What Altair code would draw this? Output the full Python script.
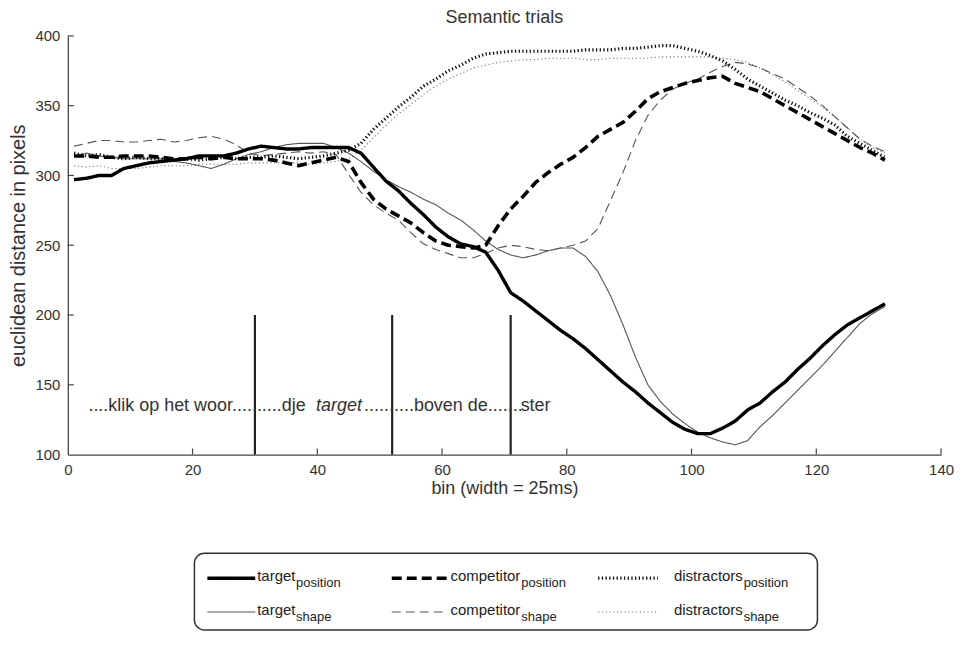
import altair as alt
import pandas as pd

FONT = "Liberation Sans"

# ---------------- data ----------------
bins = list(range(1, 132, 2))

target_position = [297, 298, 300, 300, 305, 307, 309, 310, 311, 312, 314, 314, 314, 316, 319, 321,
                   320, 319, 319, 320, 320, 320, 320, 316, 306, 296, 289, 280, 272, 263, 256, 251,
                   249, 245, 232, 216, 210, 203, 196, 189, 183, 176, 168, 160, 152, 145, 137, 130,
                   123, 118, 115, 115, 119, 124, 132, 137, 145, 152, 161, 169, 178, 186, 193, 198,
                   203, 208]
competitor_position = [314, 314, 313, 313, 314, 314, 314, 313, 312, 312, 313, 312, 313, 312, 312, 312,
                       311, 309, 307, 309, 311, 313, 310, 295, 283, 276, 271, 266, 259, 253, 250, 249,
                       248, 250, 264, 276, 285, 295, 302, 308, 313, 320, 328, 333, 338, 346, 355, 360,
                       363, 366, 368, 370, 371, 366, 363, 360, 355, 350, 345, 340, 335, 330, 325, 320,
                       316, 311]
distractors_position = [316, 314, 315, 313, 312, 313, 312, 312, 311, 312, 311, 312, 313, 312, 313, 313,
                        314, 313, 312, 313, 314, 316, 318, 323, 333, 341, 349, 356, 364, 369, 375, 379,
                        384, 387, 388, 389, 389, 389, 389, 389, 389, 390, 390, 390, 391, 391, 392, 393,
                        393, 391, 389, 386, 382, 376, 369, 364, 359, 354, 350, 345, 341, 336, 328, 323,
                        318, 313]
target_shape = [314, 316, 314, 313, 312, 312, 312, 312, 310, 309, 307, 305, 308, 312, 315, 317,
                320, 322, 323, 323, 323, 320, 316, 310, 303, 297, 292, 288, 283, 279, 273, 268,
                261, 253, 247, 243, 241, 243, 246, 248, 248, 242, 231, 214, 193, 170, 150, 138,
                129, 122, 116, 112, 109, 107, 110, 120, 128, 137, 146, 155, 164, 174, 184, 194,
                201, 206]
competitor_shape = [321, 323, 325, 325, 324, 324, 325, 326, 324, 325, 327, 328, 326, 322, 316, 314,
                    315, 316, 317, 316, 317, 315, 301, 288, 279, 273, 268, 259, 251, 247, 244, 241,
                    241, 244, 248, 250, 249, 247, 246, 248, 250, 253, 262, 282, 302, 325, 343, 354,
                    362, 366, 369, 374, 378, 381, 380, 377, 373, 369, 363, 357, 350, 342, 334, 326,
                    321, 317]
distractors_shape = [307, 306, 307, 305, 305, 305, 306, 307, 307, 307, 308, 308, 308, 308, 309, 309,
                     309, 309, 309, 308, 309, 310, 312, 318, 327, 336, 344, 351, 358, 364, 369, 373,
                     377, 379, 381, 382, 383, 383, 384, 384, 384, 383, 383, 384, 384, 384, 384, 385,
                     385, 385, 385, 385, 384, 383, 381, 377, 372, 367, 361, 355, 349, 342, 334, 326,
                     320, 316]

x_tick_values = [0, 20, 40, 60, 80, 100, 120, 140]
y_tick_values = [100, 150, 200, 250, 300, 350, 400]

word_onset_bins = [30, 52, 71]
word_bar_from = 100
word_bar_to = 200

annotation_texts = ["....klik op het woor..........dje", "target", "..........boven de.......", "ster"]
annotation_bins = [3.3, 39.8, 47.5, 72.6]
annotation_italic = [False, True, False, False]
annotation_level = 135

legend_words = ["target", "competitor", "distractors", "target", "competitor", "distractors"]
legend_subs = ["position", "position", "position", "shape", "shape", "shape"]

series_order = ["distractors_shape", "competitor_shape", "target_shape",
                "distractors_position", "competitor_position", "target_position"]
series_values = {
    "target_position": target_position,
    "competitor_position": competitor_position,
    "distractors_position": distractors_position,
    "target_shape": target_shape,
    "competitor_shape": competitor_shape,
    "distractors_shape": distractors_shape,
}

# ---------------- styles ----------------
style = {
    "target_position": dict(color="#000000", strokeWidth=3.4, strokeDash=[1, 0]),
    "competitor_position": dict(color="#000000", strokeWidth=3.6, strokeDash=[10, 5]),
    "distractors_position": dict(color="#111111", strokeWidth=3.2, strokeDash=[1.3, 2.4]),
    "target_shape": dict(color="#555555", strokeWidth=1.1, strokeDash=[1, 0]),
    "competitor_shape": dict(color="#555555", strokeWidth=1.1, strokeDash=[9, 5]),
    "distractors_shape": dict(color="#777777", strokeWidth=1.1, strokeDash=[1.2, 2.6]),
}
legend_keys = ["target_position", "competitor_position", "distractors_position",
               "target_shape", "competitor_shape", "distractors_shape"]

W, H = 876, 420
xs = alt.Scale(domain=[0, 140], nice=False, zero=False)
ys = alt.Scale(domain=[100, 400], nice=False, zero=False)

rows = []
for key in series_order:
    for b, v in zip(bins, series_values[key]):
        rows.append({"series": key, "bin": b, "value": v})
df = pd.DataFrame(rows)

x_axis = alt.Axis(values=x_tick_values, ticks=False, grid=False, domainColor="#444", domainWidth=1.3,
                  labelFont=FONT, labelFontSize=15, labelColor="#333", labelPadding=8, labelFlush=False,
                  title="bin (width = 25ms)", titleFont=FONT, titleFontSize=18, titleFontWeight="normal",
                  titleColor="#333", titlePadding=2)
y_axis = alt.Axis(values=y_tick_values, ticks=False, grid=False, domainColor="#444", domainWidth=1.3,
                  labelFont=FONT, labelFontSize=15, labelColor="#333", labelPadding=8, labelFlush=False,
                  title="euclidean distance in pixels", titleFont=FONT, titleFontSize=20,
                  titleFontWeight="normal", titleColor="#333", titlePadding=6)


def X(field):
    return alt.X(field, scale=xs, axis=x_axis)


def Y(field):
    return alt.Y(field, scale=ys, axis=y_axis)


layers = []

# word onset bars
bars_df = pd.DataFrame({"bin": word_onset_bins, "lo": word_bar_from, "hi": word_bar_to})
bars = alt.Chart(bars_df).mark_rule(color="#222", strokeWidth=2.2).encode(
    x=X("bin:Q"), y=Y("lo:Q"), y2="hi:Q")
layers.append(bars)

for key in series_order:
    st = style[key]
    layer = alt.Chart(df).transform_filter(alt.datum.series == key).mark_line(
        color=st["color"], strokeWidth=st["strokeWidth"], strokeDash=st["strokeDash"],
        strokeJoin="round", strokeCap="butt", interpolate="linear"
    ).encode(x=X("bin:Q"), y=Y("value:Q"), order="bin:Q")
    layers.append(layer)

# inward ticks
xt = alt.Chart(pd.DataFrame({"bin": x_tick_values[1:]})).mark_rule(color="#444", strokeWidth=1.2).encode(
    x=X("bin:Q"), y=alt.value(H), y2=alt.value(H - 6))
yt = alt.Chart(pd.DataFrame({"value": y_tick_values[1:]})).mark_rule(color="#444", strokeWidth=1.2).encode(
    y=Y("value:Q"), x=alt.value(0), x2=alt.value(6))
layers += [xt, yt]

# sentence annotation
for txt, b, it in zip(annotation_texts, annotation_bins, annotation_italic):
    t = alt.Chart(pd.DataFrame({"bin": [b], "value": [annotation_level], "txt": [txt]})).mark_text(
        align="left", baseline="middle", font=FONT, fontSize=18, color="#333",
        fontStyle="italic" if it else "normal"
    ).encode(x=X("bin:Q"), y=Y("value:Q"), text="txt:N")
    layers.append(t)

# custom legend box under the plot
one = pd.DataFrame({"k": [0]})
box_top, box_bot = 519, 596
box = alt.Chart(one).mark_rect(cornerRadius=10, fill="white", stroke="#333", strokeWidth=1.5).encode(
    x=alt.value(127), x2=alt.value(752), y=alt.value(box_top), y2=alt.value(box_bot))
layers.append(box)

col_line = [(140, 188), (325, 380), (532, 592)]
col_word = [190, 384, 608]
col_sub = [229, 455, 678]
row_y = [box_top + 25, box_top + 59]
for idx, key in enumerate(legend_keys):
    r, c = divmod(idx, 3)
    st = style[key]
    y0 = row_y[r]
    ln = alt.Chart(one).mark_rule(color=st["color"], strokeWidth=st["strokeWidth"],
                                  strokeDash=st["strokeDash"], strokeCap="butt").encode(
        x=alt.value(col_line[c][0]), x2=alt.value(col_line[c][1]), y=alt.value(y0))
    wd = alt.Chart(one).mark_text(text=legend_words[idx], align="left", baseline="middle",
                                  font=FONT, fontSize=15, color="#222").encode(
        x=alt.value(col_word[c]), y=alt.value(y0 - 2))
    sb = alt.Chart(one).mark_text(text=legend_subs[idx], align="left", baseline="middle",
                                  font=FONT, fontSize=13, color="#222").encode(
        x=alt.value(col_sub[c]), y=alt.value(y0 + 5))
    layers += [ln, wd, sb]

chart = alt.layer(*layers).properties(
    width=W, height=H,
    title=alt.TitleParams("Semantic trials", font=FONT, fontSize=18, fontWeight="normal",
                          color="#333", anchor="middle", frame="group", offset=2),
    padding={"left": 0, "top": 0, "right": 0, "bottom": 0},
).configure_view(stroke=None)

chart.save("out.html", embed_options={"renderer": "svg", "actions": False})
